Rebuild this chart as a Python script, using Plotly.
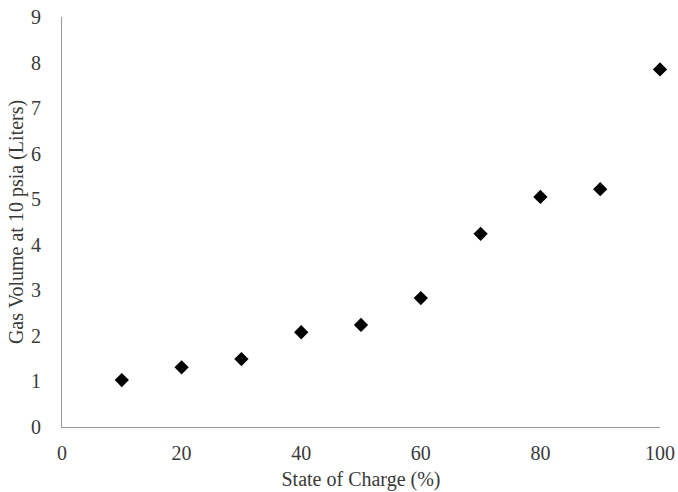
import plotly.graph_objects as go

# State of charge (%) and measured gas volume at 10 psia (L)
state_of_charge = [10, 20, 30, 40, 50, 60, 70, 80, 90, 100]
gas_volume = [1.03, 1.31, 1.49, 2.08, 2.24, 2.83, 4.24, 5.05, 5.22, 7.85]

x_ticks = [0, 20, 40, 60, 80, 100]
y_ticks = [0, 1, 2, 3, 4, 5, 6, 7, 8, 9]

font_family = "Liberation Serif, Times New Roman, serif"

fig = go.Figure(
    go.Scatter(
        x=state_of_charge,
        y=gas_volume,
        mode="markers",
        marker=dict(symbol="diamond", size=11, color="black",
                    line=dict(width=0)),
        cliponaxis=False,
        showlegend=False,
    )
)

fig.update_layout(
    width=678,
    height=492,
    margin=dict(l=62, r=18, t=17, b=65),
    paper_bgcolor="white",
    plot_bgcolor="white",
    font=dict(family=font_family, size=20, color="#3a3a3a"),
)

fig.update_xaxes(
    range=[0, 100],
    tickvals=x_ticks,
    showgrid=False,
    zeroline=False,
    showline=True,
    linecolor="#9a9a9a",
    linewidth=1.2,
    ticks="",
    automargin=False,
    ticklabelstandoff=8,
    title=dict(text="State of Charge (%)", standoff=8,
               font=dict(size=20, family=font_family)),
)

fig.update_yaxes(
    range=[0, 9],
    tickvals=y_ticks,
    showgrid=False,
    zeroline=False,
    showline=True,
    linecolor="#9a9a9a",
    linewidth=1.2,
    ticks="",
    automargin=False,
    ticklabelstandoff=16,
    title=dict(text="Gas Volume at 10 psia (Liters)", standoff=1,
               font=dict(size=20, family=font_family)),
)

fig.write_html("out.html")
